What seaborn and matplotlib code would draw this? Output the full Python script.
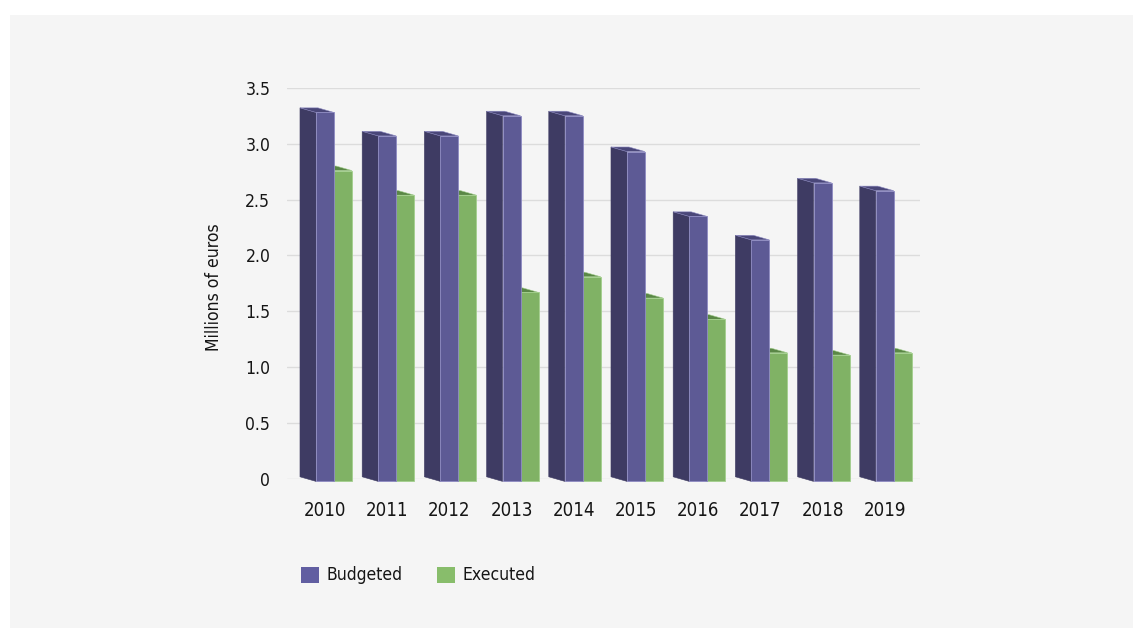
import numpy as np
import pandas as pd
import matplotlib
matplotlib.use("Agg")
import matplotlib.pyplot as plt
from matplotlib.patches import Polygon, Patch, Rectangle
import seaborn as sns

# Data (millions of euros)
years = ["2010", "2011", "2012", "2013", "2014", "2015", "2016", "2017", "2018", "2019"]
budgeted = [3.30, 3.09, 3.09, 3.27, 3.27, 2.95, 2.37, 2.16, 2.67, 2.60]
executed = [2.78, 2.56, 2.56, 1.69, 1.83, 1.64, 1.45, 1.15, 1.13, 1.15]
series = ["Budgeted", "Executed"]
y_ticks = [0, 0.5, 1.0, 1.5, 2.0, 2.5, 3.0, 3.5]
y_tick_labels = ["0", "0.5", "1.0", "1.5", "2.0", "2.5", "3.0", "3.5"]

# Face colours for the pseudo-3D columns
front_col = {"Budgeted": "#5d5a95", "Executed": "#80b265"}
side_col = {"Budgeted": "#3e3b63", "Executed": "#5b8a45"}
top_col = {"Budgeted": "#4a4779", "Executed": "#5a8746"}
edge_col = {"Budgeted": "#8e8bc2", "Executed": "#a3cf8d"}
legend_col = {"Budgeted": "#615ea1", "Executed": "#88bd6b"}

df = pd.DataFrame({
    "year": years * 2,
    "series": [series[0]] * len(years) + [series[1]] * len(years),
    "value": budgeted + executed,
})

sns.set_theme(style="whitegrid")
plt.rcParams["font.family"] = ["Liberation Sans Narrow", "DejaVu Sans"]
plt.rcParams["font.stretch"] = "condensed"
plt.rcParams["text.color"] = "#151515"

W, H = 1133, 628
fig = plt.figure(figsize=(W / 100, H / 100), dpi=100, facecolor="white")
fig.patches.append(Rectangle((10 / W, 0), 1 - 10 / W, 1 - 15 / H,
                             transform=fig.transFigure, facecolor="#f5f5f5",
                             edgecolor="none", zorder=-10))

ax_left, ax_right, ax_top, ax_bottom = 287, 920, 87.7, 479
ax = fig.add_axes([ax_left / W, 1 - ax_bottom / H,
                   (ax_right - ax_left) / W, (ax_bottom - ax_top) / H])
ax.set_facecolor("none")
ax.set_zorder(1)

sns.barplot(data=df, x="year", y="value", hue="series", hue_order=series,
            palette=front_col, width=0.58, dodge=True, saturation=1,
            legend=False, ax=ax)

xmin = -0.756
xmax = xmin + (ax_right - ax_left) / 62.2
ax.set_xlim(xmin, xmax)
ax.set_ylim(0, 3.5)

# depth of the extrusion (towards the back-left, upwards)
px_x = (xmax - xmin) / (ax_right - ax_left)
px_y = 3.5 / (ax_bottom - ax_top)
dx, dy = -16 * px_x, 4.6 * px_y
drop = 2.4 * px_y

for name, container in zip(series, ax.containers):
    z = 3 if name == "Budgeted" else 2
    for bar in container:
        x0, w, h = bar.get_x(), bar.get_width(), bar.get_height()
        y0 = -drop
        bar.set_y(y0)
        bar.set_zorder(z + 0.2)
        bar.set_edgecolor(edge_col[name])
        bar.set_linewidth(0.6)
        bar.set_clip_on(False)
        side = Polygon([(x0, y0), (x0, y0 + h), (x0 + dx, y0 + h + dy), (x0 + dx, y0 + dy)],
                       closed=True, facecolor=side_col[name], edgecolor=side_col[name],
                       linewidth=0.4, zorder=z, clip_on=False)
        top = Polygon([(x0, y0 + h), (x0 + w, y0 + h), (x0 + w + dx, y0 + h + dy), (x0 + dx, y0 + h + dy)],
                      closed=True, facecolor=top_col[name], edgecolor=edge_col[name],
                      linewidth=0.4, zorder=z + 0.1, clip_on=False)
        ax.add_patch(side)
        ax.add_patch(top)

ax.set_xticks(np.arange(len(years)) - 0.145, labels=years)
ax.set_yticks(y_ticks, labels=y_tick_labels)
ax.tick_params(axis="x", length=0, pad=16, labelsize=13.4, labelcolor="#151515")
ax.tick_params(axis="y", length=0, pad=12, labelsize=12.6, labelcolor="#151515")
ax.grid(axis="x", visible=False)
ax.grid(axis="y", color="#dcdcdc", linewidth=1.0)
ax.set_axisbelow(True)
for s in ax.spines.values():
    s.set_visible(False)

ax.set_xlabel("")
ax.set_ylabel("Millions of euros", fontsize=12.6, color="#151515")
ax.yaxis.set_label_coords((223 - ax_left) / (ax_right - ax_left), 0.49)

handles = [Patch(facecolor=legend_col[s], edgecolor="none", label=s) for s in series]
fig.legend(handles=handles, loc="center left", bbox_to_anchor=(301 / W, 1 - 575.5 / H),
           ncol=2, frameon=False, fontsize=12.6, handlelength=1.03, handleheight=1.03,
           handletextpad=0.4, columnspacing=2.0, borderpad=0, borderaxespad=0)

fig.savefig("out.png", dpi=100, facecolor="white")
